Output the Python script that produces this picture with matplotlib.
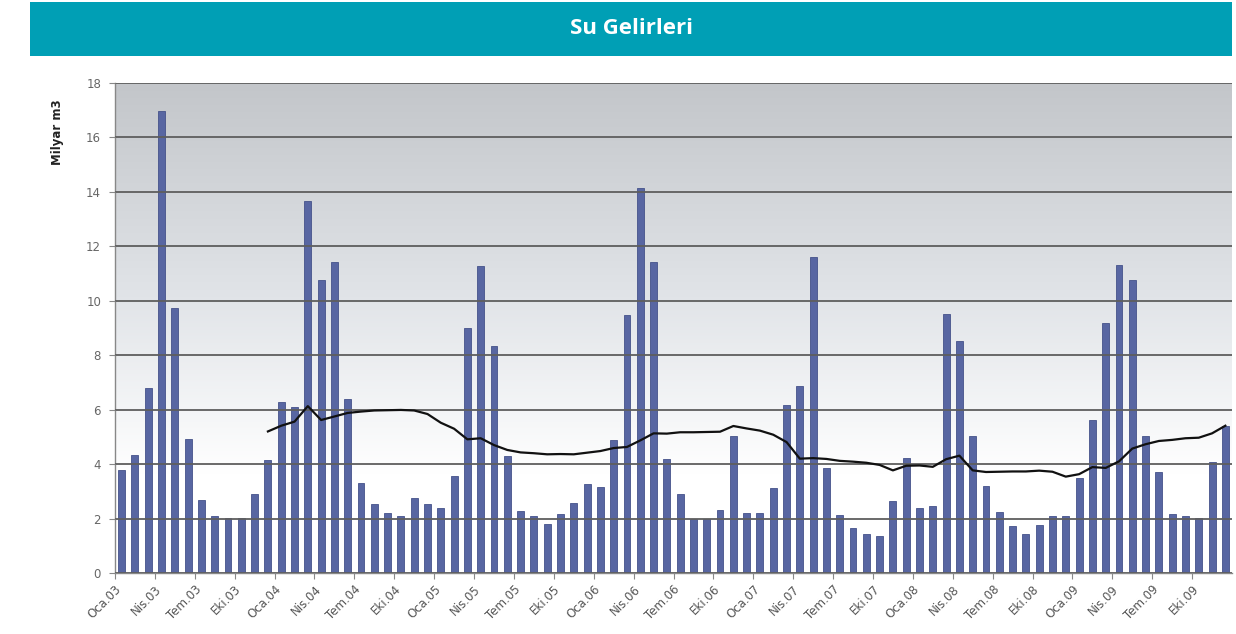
import numpy as np
import matplotlib
matplotlib.use("Agg")
import matplotlib.pyplot as plt
from matplotlib.patches import Rectangle
from matplotlib.colors import LinearSegmentedColormap

title = "Su Gelirleri"
ylabel = "Milyar m3"

months = ["Oca", "Şub", "Mar", "Nis", "May", "Haz", "Tem", "Ağu", "Eyl", "Eki", "Kas", "Ara"]
years = ["03", "04", "05", "06", "07", "08", "09"]
categories = [f"{m}.{y}" for y in years for m in months]

values_2003 = [3.78, 4.34, 6.81, 16.98, 9.75, 4.91, 2.69, 2.10, 2.02, 2.02, 2.92, 4.14]
values_2004 = [6.28, 6.11, 13.67, 10.78, 11.41, 6.41, 3.32, 2.52, 2.21, 2.08, 2.76, 2.52]
values_2005 = [2.39, 3.55, 9.00, 11.27, 8.34, 4.30, 2.26, 2.08, 1.81, 2.17, 2.58, 3.26]
values_2006 = [3.15, 4.89, 9.49, 14.13, 11.43, 4.20, 2.89, 2.00, 2.00, 2.30, 5.02, 2.21]
values_2007 = [2.21, 3.13, 6.18, 6.86, 11.59, 3.85, 2.14, 1.64, 1.42, 1.35, 2.65, 4.23]
values_2008 = [2.39, 2.47, 9.51, 8.51, 5.05, 3.19, 2.23, 1.71, 1.45, 1.76, 2.10, 2.10]
values_2009 = [3.48, 5.62, 9.17, 11.30, 10.78, 5.05, 3.71, 2.17, 2.10, 2.02, 4.07, 5.39]
bar_values = (values_2003 + values_2004 + values_2005 + values_2006 +
              values_2007 + values_2008 + values_2009)

# trend line, starting at Ara.03
trend_start = "Ara.03"
trend_values = [5.20, 5.41, 5.56, 6.13, 5.62, 5.75, 5.88, 5.93, 5.97, 5.98, 5.99, 5.97,
                5.84, 5.52, 5.30, 4.91, 4.95, 4.70, 4.52, 4.43, 4.40, 4.36, 4.37, 4.36,
                4.42, 4.48, 4.59, 4.63, 4.87, 5.13, 5.12, 5.17, 5.17, 5.18, 5.19, 5.40,
                5.31, 5.23, 5.08, 4.81, 4.20, 4.22, 4.19, 4.12, 4.09, 4.05, 3.97, 3.77,
                3.94, 3.95, 3.90, 4.18, 4.31, 3.77, 3.71, 3.72, 3.73, 3.73, 3.76, 3.72,
                3.54, 3.63, 3.89, 3.86, 4.10, 4.57, 4.73, 4.85, 4.89, 4.95, 4.97, 5.13,
                5.41]

W, H = 1236, 634
fig = plt.figure(figsize=(W / 100, H / 100), dpi=100)
fig.patch.set_facecolor("white")

# title banner
fig.patches.append(Rectangle((30 / W, 1 - 56 / H), (1232 - 30) / W, 54 / H,
                             transform=fig.transFigure, facecolor="#009FB5",
                             edgecolor="none", zorder=0))
fig.text(631 / W, 1 - 29 / H, title, ha="center", va="center", color="white",
         fontsize=16, fontweight="bold", family=["Open Sans", "DejaVu Sans"])

ax = fig.add_axes([115 / W, 1 - 573 / H, (1232 - 115) / W, (573 - 83) / H])

n = len(bar_values)
x = np.arange(n)
ax.set_xlim(-0.5, n - 0.5)
ax.set_ylim(0, 18)

# gradient background
cmap = LinearSegmentedColormap.from_list("bg", [(0, "#ffffff"), (0.2, "#ffffff"),
                                                (0.55, "#e2e5e9"), (1.0, "#c3c6ca")])
grad = np.linspace(0, 1, 256).reshape(-1, 1)
ax.imshow(grad, extent=[0, 1, 0, 1], transform=ax.transAxes, origin="lower",
          aspect="auto", cmap=cmap, zorder=0)

ax.set_yticks(np.arange(0, 19, 2))
ax.yaxis.grid(True, color="#5e5e5e", linewidth=1.3, zorder=1)
ax.set_axisbelow(False)
for gl in ax.get_ygridlines():
    gl.set_zorder(1)

ax.bar(x, bar_values, width=0.52, color="#5866A2", edgecolor="#45528a",
       linewidth=0.6, zorder=2)

t0 = categories.index(trend_start)
ax.plot(np.arange(t0, t0 + len(trend_values)), trend_values, color="#111111",
        linewidth=1.6, zorder=3)

# x ticks at category boundaries every 3 months
tick_pos = np.arange(0, n, 3) - 0.5
ax.set_xticks(tick_pos)
ax.set_xticklabels([categories[i] for i in range(0, n, 3)], rotation=45,
                   ha="right", va="top", rotation_mode="anchor", fontsize=8.5,
                   color="#555555")
ax.tick_params(axis="x", length=4, color="#888888", pad=3)
ax.tick_params(axis="y", length=4, color="#888888", labelsize=8.5,
               labelcolor="#666666", pad=6)

for s in ["top", "right"]:
    ax.spines[s].set_visible(False)
for s in ["left", "bottom"]:
    ax.spines[s].set_color("#888888")
    ax.spines[s].set_linewidth(1.0)

fig.text(58 / W, 1 - 132 / H, ylabel, rotation=90, ha="center", va="center",
         fontsize=8.5, fontweight="bold", color="#222222")

fig.savefig("out.png", dpi=100, facecolor="white")
